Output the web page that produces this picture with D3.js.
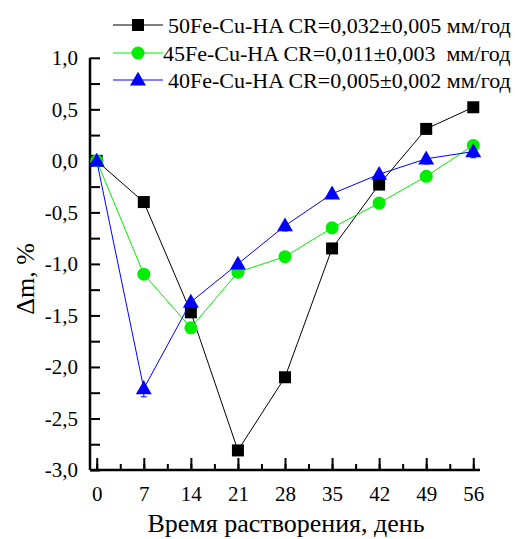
<!DOCTYPE html>
<html><head><meta charset="utf-8">
<script src="https://cdn.jsdelivr.net/npm/d3@7"></script>
<style>body{margin:0;background:#fff}svg{display:block}text{font-family:"Liberation Serif","Times New Roman",serif}</style>
</head><body>
<svg id="c" width="515" height="539"></svg>
<script>
const days = [0, 7, 14, 21, 28, 35, 42, 49, 56];
const s50 = [0, -0.40, -1.47, -2.81, -2.10, -0.85, -0.23, 0.31, 0.52];
const s45 = [0, -1.10, -1.62, -1.08, -0.93, -0.65, -0.41, -0.15, 0.15];
const s40 = [0, -2.21, -1.37, -1.00, -0.63, -0.32, -0.13, 0.02, 0.09];
const err40 = [0.02, 0.08, 0.05, 0.04, 0.05, 0.04, 0.04, 0.05, 0.06];
const names = ["50Fe-Cu-HA CR=0,032±0,005 мм/год", "45Fe-Cu-HA CR=0,011±0,003  мм/год", "40Fe-Cu-HA CR=0,005±0,002 мм/год"];
const colors = ["#000000", "#00ee00", "#0000ff"];
const yTicks = [1.0, 0.5, 0.0, -0.5, -1.0, -1.5, -2.0, -2.5, -3.0];
const xTicks = [0, 7, 14, 21, 28, 35, 42, 49, 56];

const svg = d3.select("#c");
const x = d3.scaleLinear().domain([-1, 57]).range([90, 480]);
const y = d3.scaleLinear().domain([-3, 1]).range([470, 57.8]);
const fmt = v => d3.format(".1f")(v).replace(".", ",").replace("−", "-");

// axes
const gx = svg.append("g").attr("transform", `translate(0,${y(-3)})`)
  .call(d3.axisBottom(x).tickValues(d3.range(0, 57, 3.5)).tickSize(-6).tickFormat(""));
gx.selectAll(".tick line").attr("stroke-width", 2);
const gx2 = svg.append("g").attr("transform", `translate(0,${y(-3)})`)
  .call(d3.axisBottom(x).tickValues(xTicks).tickSize(-12).tickFormat(d => d));
gx2.selectAll(".tick line").attr("stroke-width", 2);
gx2.select(".domain").remove();
gx.select(".domain").attr("stroke-width", 2.5).attr("d", `M${x(-1)},0H${x(57)}`);
gx2.selectAll("text").attr("font-size", 21).attr("fill", "#000").attr("dy", "0.71em").attr("y", 16);

const gy = svg.append("g").attr("transform", `translate(${x(-1)},0)`)
  .call(d3.axisRight(y).tickValues(d3.range(-3, 1.01, 0.25)).tickSize(10).tickFormat(""));
gy.selectAll(".tick line").attr("stroke-width", 2);
gy.select(".domain").attr("stroke-width", 2.5).attr("d", `M0,${y(1)}V${y(-3)}`);
const gy2 = svg.append("g").attr("transform", `translate(${x(-1)},0)`)
  .call(d3.axisLeft(y).tickValues(yTicks).tickSize(0).tickPadding(12).tickFormat(fmt));
gy2.select(".domain").remove();
gy2.selectAll("text").attr("font-size", 21).attr("fill", "#000");

// titles
svg.append("text").attr("x", 286).attr("y", 532).attr("text-anchor", "middle")
  .attr("font-size", 26).text("Время растворения, день");
svg.append("text").attr("transform", "translate(34,279) rotate(-90)").attr("text-anchor", "middle")
  .attr("font-size", 26).text("Δm, %");

const series = [s50, s45, s40];
const line = d3.line().x((d, i) => x(days[i])).y(d => y(d));

function marker(g, k, cx, cy) {
  if (k === 0) g.append("rect").attr("x", cx - 6).attr("y", cy - 6).attr("width", 12).attr("height", 12).attr("fill", colors[0]);
  else if (k === 1) g.append("circle").attr("cx", cx).attr("cy", cy).attr("r", 6.5).attr("fill", colors[1]);
  else g.append("path").attr("d", d3.symbol(d3.symbolTriangle, 110)()).attr("transform", `translate(${cx},${cy + 1})`).attr("fill", colors[2]);
}

[0, 1, 2].forEach(k => {
  const g = svg.append("g");
  g.append("path").datum(series[k]).attr("d", line).attr("fill", "none").attr("stroke", colors[k]).attr("stroke-width", 1);
  if (k === 2) {
    series[k].forEach((v, i) => {
      g.append("line").attr("x1", x(days[i])).attr("x2", x(days[i]))
        .attr("y1", y(v + err40[i])).attr("y2", y(v - err40[i])).attr("stroke", colors[2]).attr("stroke-width", 1);
      g.append("line").attr("x1", x(days[i]) - 3).attr("x2", x(days[i]) + 3)
        .attr("y1", y(v - err40[i])).attr("y2", y(v - err40[i])).attr("stroke", colors[2]).attr("stroke-width", 1);
    });
  }
  series[k].forEach((v, i) => marker(g, k, x(days[i]), y(v)));
});

// legend
const ly = [25, 53, 80];
const lx = [168, 163, 168];
names.forEach((n, k) => {
  const g = svg.append("g");
  g.append("line").attr("x1", 113).attr("x2", 163).attr("y1", ly[k]).attr("y2", ly[k]).attr("stroke", colors[k]).attr("stroke-width", 1);
  marker(g, k, 138, ly[k]);
  g.append("text").attr("x", lx[k]).attr("y", ly[k]).attr("dy", "0.35em").attr("font-size", 22).style("white-space", "pre").text(n);
});
</script>
</body></html>
